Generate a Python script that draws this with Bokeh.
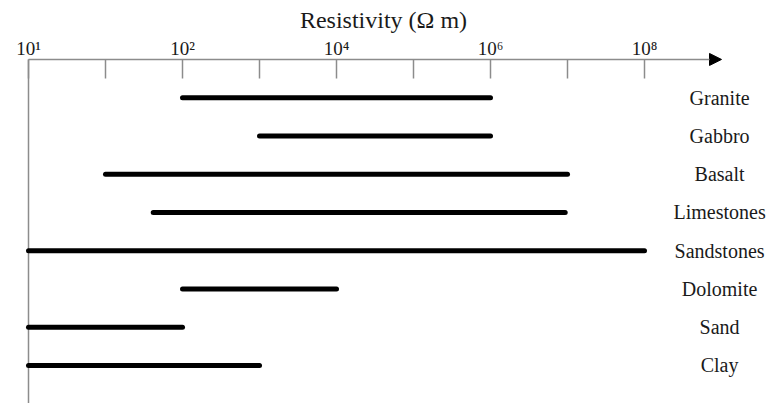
from bokeh.plotting import figure
from bokeh.models import (Range1d, FixedTicker, LinearAxis, Arrow, NormalHead,
                          ColumnDataSource)
from bokeh.core.properties import value
from bokeh.embed import file_html
from bokeh.resources import INLINE

# ---- data (axis position in tick steps) ----
rocks = ["Granite", "Gabbro", "Basalt", "Limestones", "Sandstones", "Dolomite", "Sand", "Clay"]
low = [2, 3, 1, 1.62, 0, 2, 0, 0]
high = [6, 6, 7, 6.97, 8, 4, 2, 3]
tick_positions = [0, 1, 2, 3, 4, 5, 6, 7, 8]
tick_labels = {0: "10¹", 2: "10²", 4: "10⁴", 6: "10⁶", 8: "10⁸"}
axis_title = "Resistivity (Ω m)"

SERIF = "'Liberation Serif', 'Times New Roman', serif"
GRAY = "#8c8c8c"
PX = 77.0     # pixels per tick step
X0 = 28.0     # pixel of first tick
RP = 38.25    # pixels per row
Y0 = 97.2     # pixel of first row

rows = list(range(len(rocks)))
label_x = 8.975
axis_row = -1

src = ColumnDataSource(dict(rock=rocks, low=low, high=high, row=rows,
                            lx=[label_x] * len(rocks)))

p = figure(width=766, height=403, output_backend="svg", toolbar_location=None,
           x_range=Range1d(-X0 / PX, (766 - X0) / PX),
           y_range=Range1d((403 - Y0) / RP, -Y0 / RP),
           min_border_left=0, min_border_right=0, min_border_bottom=0, min_border_top=0,
           x_axis_location=None, y_axis_location=None)
p.outline_line_color = None
p.xgrid.visible = False
p.ygrid.visible = False
p.background_fill_color = "white"
p.border_fill_color = "white"

overrides = {t: tick_labels.get(t, "") for t in tick_positions}
ax = LinearAxis(ticker=FixedTicker(ticks=tick_positions),
                major_label_overrides=overrides,
                fixed_location=axis_row,
                axis_label=axis_title,
                axis_line_color=None,
                major_tick_in=19, major_tick_out=0,
                major_tick_line_color=GRAY, major_tick_line_width=1.5,
                minor_tick_line_color=None,
                major_label_standoff=0,
                major_label_text_font=SERIF,
                major_label_text_font_size="19px",
                major_label_text_color="#1a1a1a",
                axis_label_standoff=3,
                axis_label_text_font=SERIF,
                axis_label_text_font_size="24px",
                axis_label_text_font_style="normal",
                axis_label_text_color="#1a1a1a")
p.add_layout(ax, "above")

# vertical axis line
p.segment(x0=[0], y0=[axis_row], x1=[0], y1=[(403 - Y0) / RP],
          line_color=GRAY, line_width=1.5)

# horizontal axis line with arrow
p.add_layout(Arrow(x_start=0, y_start=axis_row, x_end=9.0, y_end=axis_row,
                   line_color=GRAY, line_width=1.5,
                   end=NormalHead(size=12, fill_color="black", line_color="black")))

p.segment(x0="low", y0="row", x1="high", y1="row", source=src,
          line_color="black", line_width=5, line_cap="round")

p.text(x="lx", y="row", text="rock", source=src,
       text_font=value(SERIF), text_font_size="20px", text_color="#1a1a1a",
       text_align="center", text_baseline="middle")

open("out.html", "w").write(file_html(p, INLINE))
